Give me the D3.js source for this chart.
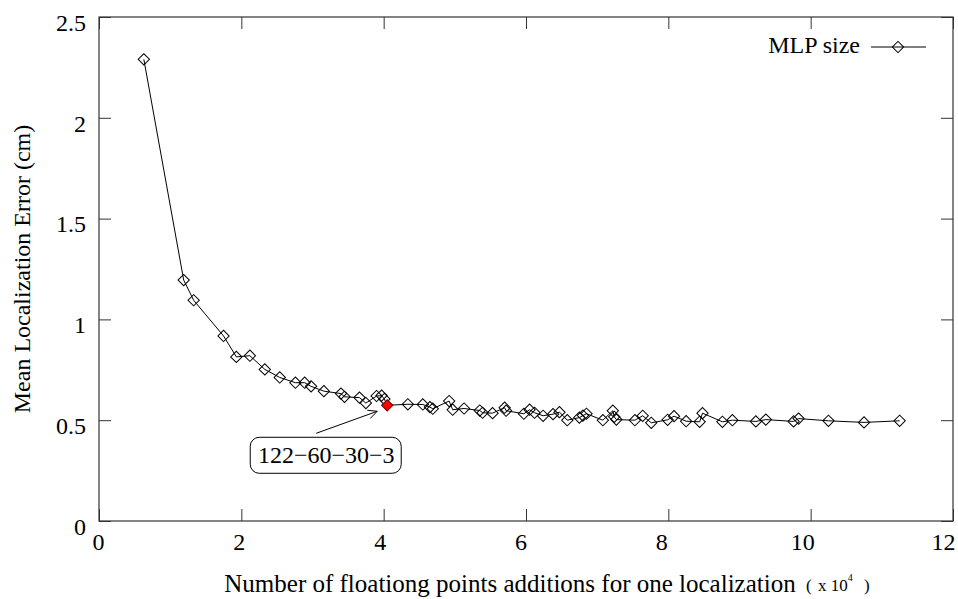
<!DOCTYPE html>
<html>
<head>
<meta charset="utf-8">
<script src="https://cdn.jsdelivr.net/npm/d3@7"></script>
<style>
  body { margin: 0; background: #fff; }
  text { font-family: "Liberation Serif", "Times New Roman", serif; }
</style>
</head>
<body>
<svg id="chart" width="958" height="599"></svg>
<script>
// floating point additions (x 10^4) per MLP size
const flops = [0.63, 1.19, 1.33, 1.75, 1.93, 2.12, 2.33, 2.54, 2.76, 2.89,
  2.98, 3.16, 3.40, 3.45, 3.66, 3.75, 3.90, 3.97, 4.01, 4.05,
  4.34, 4.55, 4.65, 4.69, 4.92, 4.97, 5.13, 5.35, 5.39, 5.53,
  5.70, 5.72, 5.97, 6.05, 6.12, 6.24, 6.38, 6.47, 6.58, 6.75,
  6.80, 6.85, 7.08, 7.22, 7.24, 7.27, 7.53, 7.64, 7.76, 7.99,
  8.08, 8.25, 8.44, 8.48, 8.76, 8.90, 9.23, 9.37, 9.76, 9.83,
  10.25, 10.75, 11.25];
// mean localization error (cm)
const errors = [2.29, 1.195, 1.095, 0.918, 0.814, 0.820, 0.752, 0.712, 0.686, 0.686,
  0.668, 0.644, 0.632, 0.616, 0.612, 0.585, 0.620, 0.622, 0.605, 0.574,
  0.579, 0.578, 0.565, 0.557, 0.595, 0.552, 0.558, 0.548, 0.537, 0.535,
  0.562, 0.547, 0.532, 0.552, 0.537, 0.522, 0.530, 0.540, 0.500, 0.513,
  0.523, 0.532, 0.500, 0.547, 0.517, 0.503, 0.500, 0.522, 0.487, 0.502,
  0.520, 0.495, 0.492, 0.535, 0.492, 0.500, 0.494, 0.503, 0.494, 0.508,
  0.497, 0.489, 0.497];
const highlightIndex = 19;
const highlightLabel = "122\u221260\u221230\u22123";
const xTicks = [0, 2, 4, 6, 8, 10, 12];
const yTicks = [0, 0.5, 1, 1.5, 2, 2.5];

const svg = d3.select("#chart");
const plot = { left: 99, right: 953, top: 17, bottom: 521 };
const x = d3.scaleLinear().domain([0, 12]).range([plot.left, plot.right]);
const y = d3.scaleLinear().domain([0, 2.5]).range([plot.bottom, plot.top]);
// tick labels sit on a slightly tighter spread than the ticks themselves
const xLabel = d3.scaleLinear().domain([0, 12]).range([98, 943]);

const points = flops.map((f, i) => ({ x: f, y: errors[i] }));

// axes with inward ticks
const gx = svg.append("g").attr("transform", `translate(0,${plot.bottom})`)
  .call(d3.axisBottom(x).tickValues(xTicks).tickSizeInner(-12).tickSizeOuter(0).tickFormat(d3.format("d")));
gx.selectAll("text").attr("dy", null).attr("y", 29).attr("x", d => xLabel(d) - x(d));

const gy = svg.append("g").attr("transform", `translate(${plot.left},0)`)
  .call(d3.axisLeft(y).tickValues(yTicks).tickSizeInner(-12).tickSizeOuter(0).tickPadding(13).tickFormat(d => d));
gy.selectAll("text").attr("dy", "0.55em");

svg.append("g").attr("transform", `translate(0,${plot.top})`)
  .call(d3.axisTop(x).tickValues(xTicks).tickSizeInner(-12).tickSizeOuter(0).tickFormat(""));
svg.append("g").attr("transform", `translate(${plot.right},0)`)
  .call(d3.axisRight(y).tickValues(yTicks).tickSizeInner(-12).tickSizeOuter(0).tickFormat(""));

svg.selectAll(".domain").remove();
svg.selectAll(".tick line").attr("stroke", "#333");
svg.selectAll(".tick text").attr("font-size", 24).attr("fill", "#000")
  .attr("font-family", "'Liberation Serif', serif");

svg.append("rect")
  .attr("x", plot.left).attr("y", plot.top)
  .attr("width", plot.right - plot.left).attr("height", plot.bottom - plot.top)
  .attr("fill", "none").attr("stroke", "#333").attr("stroke-width", 1.2);

// series line
svg.append("path")
  .datum(points)
  .attr("fill", "none")
  .attr("stroke", "#000")
  .attr("stroke-width", 1)
  .attr("d", d3.line().x(d => x(d.x)).y(d => y(d.y)));

const diamond = d3.symbol(d3.symbolSquare, 64);
svg.append("g").selectAll("path")
  .data(points)
  .join("path")
  .attr("d", diamond)
  .attr("transform", d => `translate(${x(d.x)},${y(d.y)}) rotate(45)`)
  .attr("fill", (d, i) => i === highlightIndex ? "#f00" : "none")
  .attr("stroke", (d, i) => i === highlightIndex ? "#600" : "#000")
  .attr("stroke-width", 1);

// annotation for the chosen network
const hp = points[highlightIndex];
const hx = x(hp.x), hy = y(hp.y);
const ax1 = hx - 71, ay1 = hy + 28, ax2 = hx - 10, ay2 = hy + 6;
svg.append("line")
  .attr("x1", ax1).attr("y1", ay1).attr("x2", ax2).attr("y2", ay2)
  .attr("stroke", "#000").attr("stroke-width", 1);
const ang = Math.atan2(ay2 - ay1, ax2 - ax1);
[0.45, -0.45].forEach(a => {
  svg.append("line")
    .attr("x1", ax2).attr("y1", ay2)
    .attr("x2", ax2 - 10 * Math.cos(ang + a)).attr("y2", ay2 - 10 * Math.sin(ang + a))
    .attr("stroke", "#000").attr("stroke-width", 1);
});
svg.append("rect")
  .attr("x", hx - 137).attr("y", hy + 32)
  .attr("width", 151).attr("height", 36)
  .attr("rx", 9).attr("ry", 9)
  .attr("fill", "#fff").attr("stroke", "#000").attr("stroke-width", 1);
svg.append("text")
  .attr("x", hx - 61).attr("y", hy + 58)
  .attr("text-anchor", "middle")
  .attr("font-size", 24)
  .text(highlightLabel);

// legend
const ly = 47;
svg.append("text")
  .attr("x", 860).attr("y", ly + 6)
  .attr("text-anchor", "end")
  .attr("font-size", 24)
  .text("MLP size");
svg.append("line")
  .attr("x1", 871).attr("x2", 926).attr("y1", ly).attr("y2", ly)
  .attr("stroke", "#000").attr("stroke-width", 1);
svg.append("path")
  .attr("d", diamond)
  .attr("transform", `translate(898,${ly}) rotate(45)`)
  .attr("fill", "none").attr("stroke", "#000");

// axis titles
svg.append("text")
  .attr("transform", `translate(30,${(plot.top + plot.bottom) / 2}) rotate(-90)`)
  .attr("text-anchor", "middle")
  .attr("font-size", 24)
  .text("Mean Localization Error (cm)");

svg.append("text")
  .attr("x", 510).attr("y", 592)
  .attr("text-anchor", "middle")
  .attr("font-size", 25)
  .text("Number of floationg points additions for one localization");

const ut = svg.append("text").attr("y", 591).attr("font-size", 17);
ut.append("tspan").attr("x", 806).text("(");
ut.append("tspan").attr("x", 818).text("x 10");
ut.append("tspan").attr("font-size", 10).attr("dy", -10).text("4");
ut.append("tspan").attr("x", 864).attr("dy", 10).text(")");
</script>
</body>
</html>
